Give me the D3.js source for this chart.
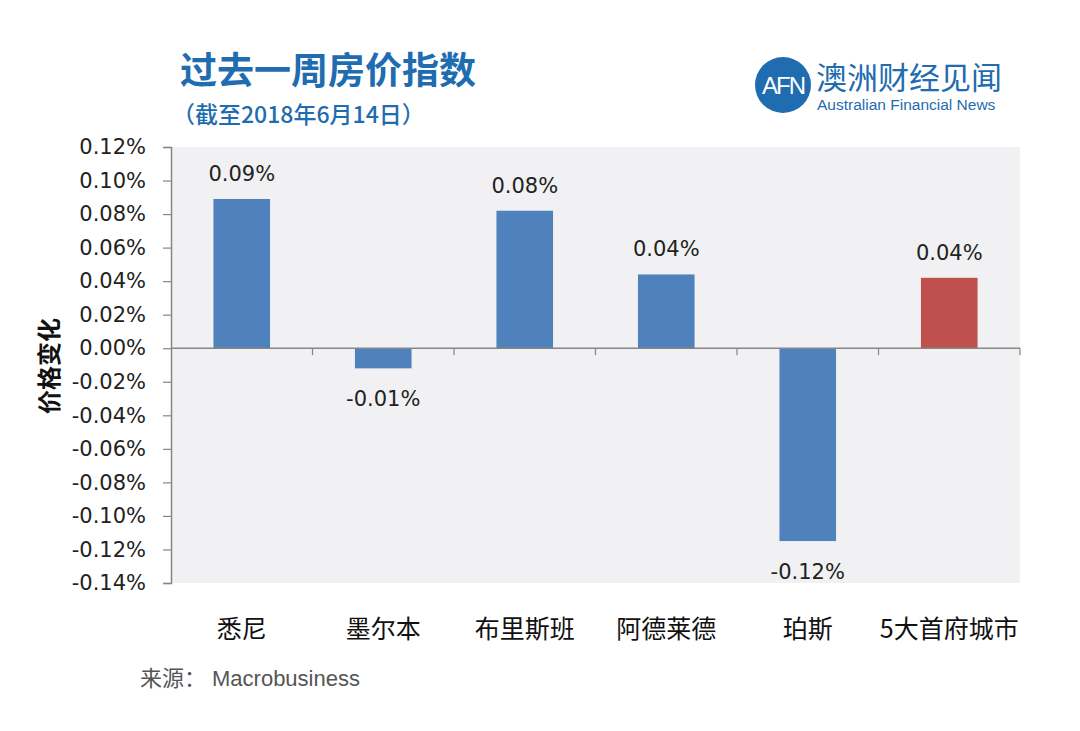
<!DOCTYPE html>
<html>
<head>
<meta charset="utf-8">
<script src="https://cdn.jsdelivr.net/npm/d3@7"></script>
<style>
  body { margin:0; background:#fff; }
  svg { display:block; }
</style>
</head>
<body>
<svg id="chart"></svg>
<script>
var w = 1080, h = 731;

// data
var cities = ["悉尼", "墨尔本", "布里斯班", "阿德莱德", "珀斯", "5大首府城市"];
var changes = [0.089, -0.012, 0.082, 0.044, -0.115, 0.042];
var labels = ["0.09%", "-0.01%", "0.08%", "0.04%", "-0.12%", "0.04%"];
var barColors = ["#4f81bd", "#4f81bd", "#4f81bd", "#4f81bd", "#4f81bd", "#c0504d"];
var yTicks = [0.12, 0.10, 0.08, 0.06, 0.04, 0.02, 0, -0.02, -0.04, -0.06, -0.08, -0.10, -0.12, -0.14];

var plotL = 171, plotR = 1020, plotT = 147, plotB = 583;
var cnFont = "'Noto Sans CJK SC', sans-serif";
var numFont = "'DejaVu Sans', 'Noto Sans', sans-serif";

function draw(){
  var svg = d3.select("#chart").attr("width", w).attr("height", h);

  // plot background
  svg.append("rect")
    .attr("x", plotL).attr("y", plotT)
    .attr("width", plotR - plotL).attr("height", plotB - plotT)
    .attr("fill", "#f1f1f3");

  var x = d3.scaleBand().domain(cities).range([plotL, plotR]).paddingInner(0.6).paddingOuter(0.3);
  var xb = d3.scaleBand().domain(cities).range([plotL, plotR]);
  var y = d3.scaleLinear().domain([-0.14, 0.12]).range([plotB, plotT]);

  // bars
  svg.selectAll("rect.bar")
    .data(changes)
    .enter()
    .append("rect")
    .attr("class", "bar")
    .attr("x", function(d, i){ return x(cities[i]); })
    .attr("width", x.bandwidth())
    .attr("y", function(d){ return d > 0 ? y(d) : y(0); })
    .attr("height", function(d){ return Math.abs(y(d) - y(0)); })
    .attr("fill", function(d, i){ return barColors[i]; });

  // y axis
  var yAxis = d3.axisLeft(y).tickValues(yTicks).tickSize(8).tickPadding(17)
    .tickFormat(function(d){ return d.toFixed(2) + "%"; });
  var gy = svg.append("g").attr("transform", "translate(" + plotL + ",0)").call(yAxis);
  gy.select(".domain").attr("stroke", "#868686").attr("stroke-width", 1.5);
  gy.selectAll(".tick line").attr("stroke", "#868686").attr("stroke-width", 1.2);
  gy.selectAll(".tick text")
    .attr("font-family", numFont).attr("font-size", "21px").attr("fill", "#222");

  // zero line with category ticks
  var gx = svg.append("g").attr("transform", "translate(0," + y(0) + ")");
  gx.append("line")
    .attr("x1", plotL).attr("x2", plotR).attr("y1", 0).attr("y2", 0)
    .attr("stroke", "#868686").attr("stroke-width", 1.5);
  gx.selectAll("line.ct")
    .data(cities)
    .enter()
    .append("line")
    .attr("class", "ct")
    .attr("x1", function(d){ return xb(d) + xb.bandwidth(); })
    .attr("x2", function(d){ return xb(d) + xb.bandwidth(); })
    .attr("y1", 0).attr("y2", 7)
    .attr("stroke", "#868686").attr("stroke-width", 1.2);

  // value labels
  svg.selectAll("text.val")
    .data(changes)
    .enter()
    .append("text")
    .attr("class", "val")
    .attr("x", function(d, i){ return x(cities[i]) + x.bandwidth() / 2; })
    .attr("y", function(d){ return d > 0 ? y(d) - 18 : y(d) + 38; })
    .attr("text-anchor", "middle")
    .attr("font-family", numFont).attr("font-size", "21px").attr("fill", "#222")
    .text(function(d, i){ return labels[i]; });

  // category labels
  svg.selectAll("text.cat")
    .data(cities)
    .enter()
    .append("text")
    .attr("class", "cat")
    .attr("x", function(d){ return x(d) + x.bandwidth() / 2; })
    .attr("y", 638)
    .attr("text-anchor", "middle")
    .attr("font-family", cnFont).attr("font-size", "25px").attr("fill", "#111")
    .text(function(d){ return d; });

  // y axis title
  svg.append("text")
    .attr("transform", "translate(58,366) rotate(-90)")
    .attr("text-anchor", "middle")
    .attr("font-family", cnFont).attr("font-size", "24px").attr("font-weight", "bold").attr("fill", "#111")
    .text("价格变化");

  // titles
  svg.append("text")
    .attr("x", 180).attr("y", 84)
    .attr("font-family", cnFont).attr("font-size", "37px").attr("font-weight", "bold").attr("fill", "#1f6cb0")
    .text("过去一周房价指数");
  svg.append("text")
    .attr("x", 172).attr("y", 123)
    .attr("font-family", cnFont).attr("font-size", "23px").attr("font-weight", 500).attr("fill", "#1f6cb0")
    .text("（截至2018年6月14日）");

  // logo
  svg.append("circle").attr("cx", 783).attr("cy", 85).attr("r", 28).attr("fill", "#1f6cb0");
  svg.append("text")
    .attr("x", 783).attr("y", 94).attr("text-anchor", "middle")
    .attr("font-family", "'Liberation Sans', sans-serif").attr("font-size", "24px").attr("fill", "#fff")
    .attr("letter-spacing", "-2")
    .text("AFN");
  svg.append("text")
    .attr("x", 816).attr("y", 89)
    .attr("font-family", cnFont).attr("font-size", "31px").attr("fill", "#1f6cb0")
    .text("澳洲财经见闻");
  svg.append("text")
    .attr("x", 817).attr("y", 110)
    .attr("font-family", "'Liberation Sans', sans-serif").attr("font-size", "15.5px").attr("fill", "#1f6cb0")
    .text("Australian Financial News");

  // source
  var src = svg.append("text")
    .attr("x", 140).attr("y", 686)
    .attr("font-size", "22px").attr("fill", "#555");
  src.append("tspan").attr("font-family", cnFont).text("来源：");
  src.append("tspan").attr("dx", 6).attr("font-family", "'Liberation Sans', sans-serif").text("Macrobusiness");
}

draw();
</script>
</body>
</html>
